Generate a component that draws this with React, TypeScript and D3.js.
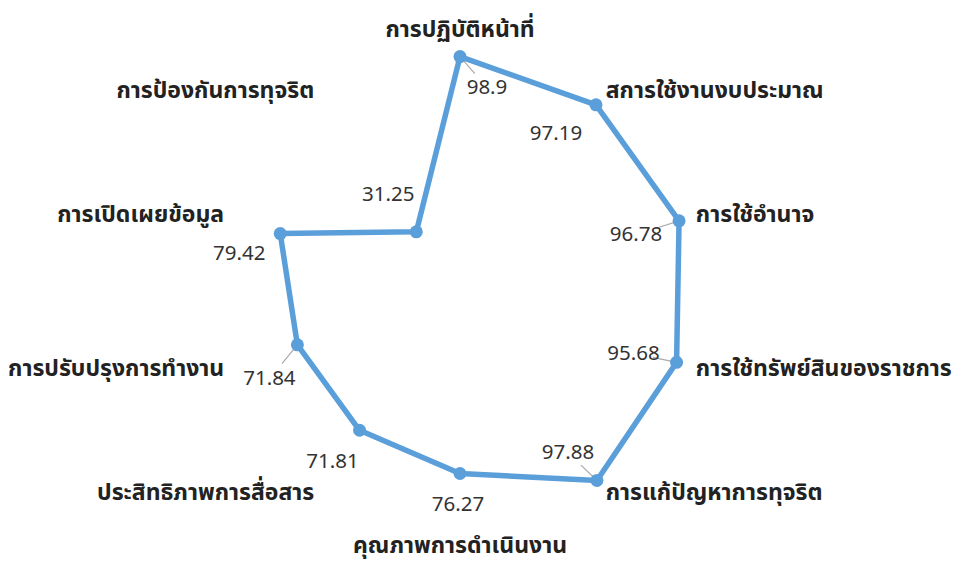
import * as d3 from 'd3';
import * as React from 'react';

const categories = [
  'การปฏิบัติหน้าที่',
  'สการใช้งานงบประมาณ',
  'การใช้อำนาจ',
  'การใช้ทรัพย์สินของราชการ',
  'การแก้ปัญหาการทุจริต',
  'คุณภาพการดำเนินงาน',
  'ประสิทธิภาพการสื่อสาร',
  'การปรับปรุงการทำงาน',
  'การเปิดเผยข้อมูล',
  'การป้องกันการทุจริต',
];

const values = [98.9, 97.19, 96.78, 95.68, 97.88, 76.27, 71.81, 71.84, 79.42, 31.25];

const valueLabels = ['98.9', '97.19', '96.78', '95.68', '97.88', '76.27', '71.81', '71.84', '79.42', '31.25'];

// hand placed data labels (like the excel original), offsets from the point
const labelNudge: [number, number][] = [
  [27, 31], [-40, 29], [-43, 14], [-43, -9], [-29, -28],
  [-2, 31], [-27, 31], [-28, 34], [-41, 20], [-28, -37],
];
const leaders = [0, 2, 3, 4, 7];

const W = 960;
const H = 568;
const cx = 460;
const cy = 292;
const font = "Tahoma, 'Noto Sans Thai', 'Noto Sans', 'DejaVu Sans', sans-serif";
const blue = '#5b9fda';

const App = () => {
  const r = d3.scaleLinear().domain([0, 100]).range([0, 238]);
  const step = (2 * Math.PI) / categories.length;

  const line = d3.lineRadial<number>()
    .angle((d, i) => i * step)
    .radius((d) => r(d))
    .curve(d3.curveLinearClosed);

  const pt = (v: number, i: number): [number, number] => [
    r(v) * Math.sin(i * step),
    -r(v) * Math.cos(i * step),
  ];

  return (
    <svg width={W} height={H} style={{ position: 'absolute', left: 0, top: 0, background: '#fff' }}>
      <g transform={`translate(${cx},${cy})`}>
        {categories.map((c, i) => {
          const a = i * step;
          const s = Math.sin(a);
          const co = Math.cos(a);
          const extra = Math.abs(s) < 0.1 ? (co > 0 ? 14 : 6) : 0;
          const lr = r(100) + 10 + extra;
          const anchor = s > 0.1 ? 'start' : s < -0.1 ? 'end' : 'middle';
          return (
            <text
              key={c}
              x={lr * s}
              y={-lr * co}
              textAnchor={anchor}
              dominantBaseline="central"
              fontFamily={font}
              fontWeight="bold"
              fontSize={23}
              fill="#222"
            >
              {c}
            </text>
          );
        })}

        {leaders.map((i) => {
          const [x, y] = pt(values[i], i);
          const [dx, dy] = labelNudge[i];
          return (
            <line key={'l' + i} x1={x} y1={y} x2={x + dx * 0.55} y2={y + dy * 0.55}
              stroke="#aaa" strokeWidth={1.2} />
          );
        })}

        <path d={line(values) || ''} fill="none" stroke={blue} strokeWidth={5.5} strokeLinejoin="round" />

        {values.map((v, i) => {
          const [x, y] = pt(v, i);
          return <circle key={'c' + i} cx={x} cy={y} r={6.5} fill={blue} />;
        })}

        {values.map((v, i) => {
          const [x, y] = pt(v, i);
          const [dx, dy] = labelNudge[i];
          return (
            <text key={'v' + i} x={x + dx} y={y + dy} textAnchor="middle" dominantBaseline="central"
              fontFamily={font} fontSize={20.5} fill="#333">
              {valueLabels[i]}
            </text>
          );
        })}
      </g>
    </svg>
  );
};

export default App;
